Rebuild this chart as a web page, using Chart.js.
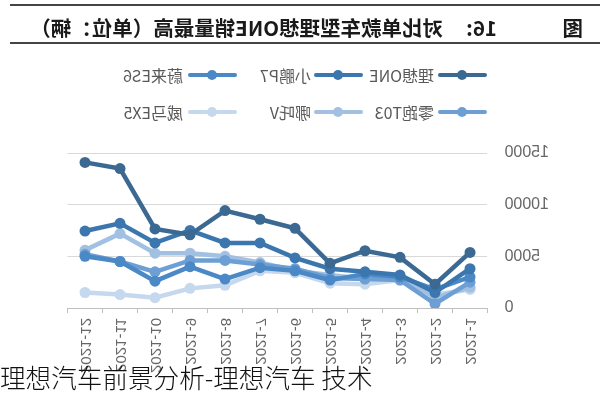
<!DOCTYPE html>
<html><head><meta charset="utf-8">
<script src="https://cdn.jsdelivr.net/npm/chart.js@4.4.1/dist/chart.umd.min.js"></script>
<style>
html,body{margin:0;padding:0;background:#fff;}
#wrap{position:absolute;left:0;top:0;width:600px;height:397px;transform:scaleX(-1);overflow:hidden;}
#c{position:absolute;left:0;top:0;}
.hr{position:absolute;left:0;width:590px;height:2px;background:#444;}
#title{position:absolute;top:14px;left:0;font-family:"Noto Sans CJK SC";font-weight:bold;font-size:20.5px;color:#1a1a1a;white-space:nowrap;line-height:26px;}
#title span{position:absolute;top:0;}
.leg{position:absolute;font-family:"Noto Sans CJK SC","Noto Sans";font-size:16px;color:#595959;white-space:nowrap;line-height:20px;}
.mk{position:absolute;width:49px;height:4px;border-radius:2px;}
.mk i{position:absolute;left:20px;top:-3px;width:10px;height:10px;border-radius:50%;background:inherit;}
#cap{position:absolute;left:0;top:362px;font-family:"Noto Sans CJK SC";font-weight:300;font-size:25.6px;line-height:30px;color:#111;white-space:nowrap;}
</style></head>
<body>
<div id="wrap">
  <canvas id="c" width="600" height="397"></canvas>
  <div class="hr" style="top:4px"></div>
  <div class="hr" style="top:42px"></div>
  <div id="title"><span style="left:17px">图</span><span style="left:103px">16:</span><span style="left:157px">对比单款车型理想ONE销量最高（单位：辆）</span></div>
  <div id="legend"></div>
</div>
<div id="cap">理想汽车前景分析-理想汽车 技术</div>
<script>
const categories = ["2021-1","2021-2","2021-3","2021-4","2021-5","2021-6","2021-7","2021-8","2021-9","2021-10","2021-11","2021-12"];
const seriesNames = ["理想ONE","小鹏P7","蔚来ES6","零跑T03","哪吒V","威马EX5"];
const lixiangONE = [5380, 2300, 4900, 5540, 4320, 7710, 8590, 9430, 7090, 7650, 13490, 14090];
const xiaopengP7 = [3800, 1500, 3200, 3500, 3800, 4850, 6300, 6300, 7500, 6300, 8200, 7450];
const weilaiES6  = [3000, 1800, 3000, 3300, 2700, 3600, 3900, 2800, 4000, 2600, 4500, 5000];
const lingpaoT03 = [2500, 400, 2700, 2800, 2900, 3800, 4200, 4600, 4600, 3500, 4500, 5200];
const nezhaV     = [2000, 1000, 3000, 2800, 3200, 3600, 4400, 5000, 5300, 5300, 7200, 5600];
const weimaEX5   = [1800, 1300, 2700, 2300, 2400, 3400, 3600, 2200, 1900, 1000, 1300, 1500];
const yTicks = [0, 5000, 10000, 15000];

const colors = ["#3b6992","#3c76ae","#4a88c6","#6e9fd4","#a2c1e2","#c6d8ed"];
const values = [lixiangONE, xiaopengP7, weilaiES6, lingpaoT03, nezhaV, weimaEX5];

// legend (HTML)
const legCols = [{line:113, text:166},{line:237, text:289},{line:363, text:417}];
const legRows = [75, 112];
const legEl = document.getElementById('legend');
seriesNames.forEach((n,i)=>{
  const r = Math.floor(i/3), col = legCols[i%3];
  const mk = document.createElement('div');
  mk.className='mk'; mk.style.left=col.line+'px'; mk.style.top=(legRows[r]-2)+'px'; mk.style.background=colors[i];
  mk.appendChild(document.createElement('i'));
  legEl.appendChild(mk);
  const t = document.createElement('div');
  t.className='leg'; t.style.left=col.text+'px'; t.style.top=(legRows[r]-10)+'px'; t.textContent=n;
  legEl.appendChild(t);
});

new Chart(document.getElementById('c'), {
  type:'line',
  data:{
    labels:categories,
    datasets: seriesNames.map((n,i)=>({
      label:n, data:values[i],
      borderColor:colors[i], backgroundColor:colors[i],
      borderWidth:4.5, pointRadius:5.5, pointHoverRadius:5.5, pointBorderWidth:0,
      tension:0, fill:false
    }))
  },
  options:{
    responsive:false, animation:false, devicePixelRatio:1,
    layout:{padding:{left:0, right:67.5, top:153, bottom:0}},
    plugins:{legend:{display:false}, title:{display:false}, tooltip:{enabled:false}},
    scales:{
      x:{
        offset:true,
        grid:{display:true, offset:true, drawOnChartArea:false, drawTicks:true, tickLength:5, color:'#bfbfbf'},
        border:{display:true, color:'#bfbfbf', width:1},
        ticks:{maxRotation:90, minRotation:90, autoSkip:false, padding:5, color:'#666', font:{family:'Liberation Sans', size:15}},
        afterFit:(s)=>{ s.height = 89; }
      },
      y:{
        min:0, max:15000,
        afterBuildTicks:(s)=>{ s.ticks = yTicks.map(v=>({value:v})); },
        grid:{color:'#d9d9d9', drawTicks:false, lineWidth:1},
        border:{display:false},
        ticks:{padding:17, color:'#666', font:{family:'Liberation Sans', size:16}, callback:(v)=>String(v)},
        afterFit:(s)=>{ s.width = 112.5; }
      }
    }
  }
});
</script>
</body></html>
